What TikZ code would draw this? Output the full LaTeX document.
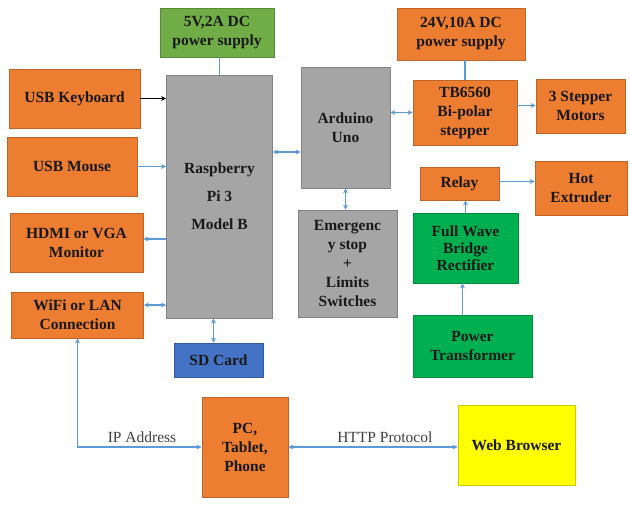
\documentclass[tikz,border=0pt]{standalone}
\usepackage{fontspec}
\setmainfont{Liberation Serif}[BoldFont={Liberation Serif Bold}]
\usetikzlibrary{arrows.meta}

\definecolor{oran}{RGB}{237,125,49}
\definecolor{gra}{RGB}{165,165,165}
\definecolor{greel}{RGB}{112,173,71}
\definecolor{greed}{RGB}{0,176,80}
\definecolor{blu}{RGB}{68,114,196}
\definecolor{yel}{RGB}{255,255,0}
\definecolor{lin}{RGB}{91,155,213}

\begin{document}
\begin{tikzpicture}[x=1pt,y=-1pt,
    box/.style={draw=#1!80!black,fill=#1,line width=0.8pt,inner sep=0pt,align=center,
        font=\rmfamily\fontsize{15.5}{19}\selectfont\bfseries,text=black!90},
    wire/.style={draw=lin,line width=1.3pt},
    arr/.style={wire,-{Stealth[length=5pt,width=5pt]}},
    conn/.style={wire,{Stealth[length=5pt,width=5pt]}-{Stealth[length=5pt,width=5pt]}},
    lbl/.style={font=\rmfamily\fontsize{15.5}{19}\selectfont,text=black!75}]
    \useasboundingbox (0,0) rectangle (630,512);
    %
    \node[box=greel,minimum width=114,minimum height=49] (ps5) at (217,32.5) {5V,2A DC\\power supply};
    \node[box=gra,minimum width=106,minimum height=243] (rpi) at (219.5,196.5)
        {Raspberry\\[9pt]Pi 3\\[9pt]Model B};
    \node[box=oran,minimum width=131,minimum height=59] (kbd) at (74.5,98.5) {USB Keyboard};
    \node[box=oran,minimum width=130,minimum height=59] (mouse) at (72,166.5) {USB Mouse};
    \node[box=oran,minimum width=133,minimum height=59] (hdmi) at (76.5,242.5) {HDMI or VGA\\Monitor};
    \node[box=oran,minimum width=132,minimum height=46] (wifi) at (77.5,315) {WiFi or LAN\\Connection};
    \node[box=blu,minimum width=89,minimum height=34] (sd) at (218.5,360) {SD Card};
    %
    \node[box=gra,minimum width=89,minimum height=121] (ard) at (345.5,127.5) {Arduino\\Uno};
    \node[box=gra,minimum width=99,minimum height=107] (emg) at (347.5,263.5)
        {Emergenc\\y stop\\+\\Limits\\Switches};
    \node[box=oran,minimum width=128,minimum height=52] (ps24) at (461,34) {24V,10A DC\\power supply};
    \node[box=oran,minimum width=104,minimum height=65] (tb) at (465,112.5) {TB6560\\Bi-polar\\stepper};
    \node[box=oran,minimum width=89,minimum height=54] (motor) at (580.5,106) {3 Stepper\\Motors};
    \node[box=oran,minimum width=79,minimum height=33] (relay) at (459.5,183.5) {Relay};
    \node[box=oran,minimum width=92,minimum height=54] (hot) at (581,188) {Hot\\Extruder};
    \node[box=greed,minimum width=105,minimum height=70,font=\rmfamily\fontsize{15.5}{17}\selectfont\bfseries]
        (rect) at (465.5,248) {Full Wave\\Bridge\\Rectifier};
    \node[box=greed,minimum width=119,minimum height=62] (trans) at (472.5,346) {Power\\Transformer};
    %
    \node[box=oran,minimum width=86,minimum height=100] (pc) at (245,447) {PC,\\Tablet,\\Phone};
    \node[box=yel,minimum width=117,minimum height=80] (web) at (516.5,445) {Web Browser};
    %
    \draw[wire] (rpi.north) -- (rpi.north |- ps5.south);
    \draw[line width=1.3pt,-{Stealth[length=5pt,width=5pt]}] (kbd.east) -- (kbd.east -| rpi.west);
    \draw[arr] (mouse.east) -- (mouse.east -| rpi.west);
    \draw[arr] (rpi.west |- 0,239) -- (hdmi.east |- 0,239);
    \draw[conn] ([yshift=10pt]wifi.east) -- ([yshift=10pt]wifi.east -| rpi.west);
    \draw[conn] ([xshift=-6pt]rpi.south) -- ([xshift=-6pt]rpi.south |- sd.north);
    \draw[conn] (rpi.east |- 0,152) -- (ard.west |- 0,152);
    \draw[conn] (ard.south) -- (ard.south |- emg.north);
    \draw[conn] (tb.west) -- (tb.west -| ard.east);
    \draw[wire] (tb.north) -- (tb.north |- ps24.south);
    \draw[arr] ([yshift=7pt]tb.east) -- ([yshift=7pt]tb.east -| motor.west);
    \draw[arr] ([yshift=2pt]relay.east) -- ([yshift=2pt]relay.east -| hot.west);
    \draw[arr] (rect.north) -- (rect.north |- relay.south);
    \draw[arr] ([xshift=-3pt]trans.north -| rect.south) -- ([xshift=-3pt]rect.south);
    %
    \draw[conn] (wifi.south) |- (pc.west) node[lbl,pos=0.76,above] (ip) {IP Address};
    \draw[conn] (pc.east) -- (pc.east -| web.west) node[lbl,pos=0.57,above] (http) {HTTP Protocol};
\end{tikzpicture}
\end{document}
